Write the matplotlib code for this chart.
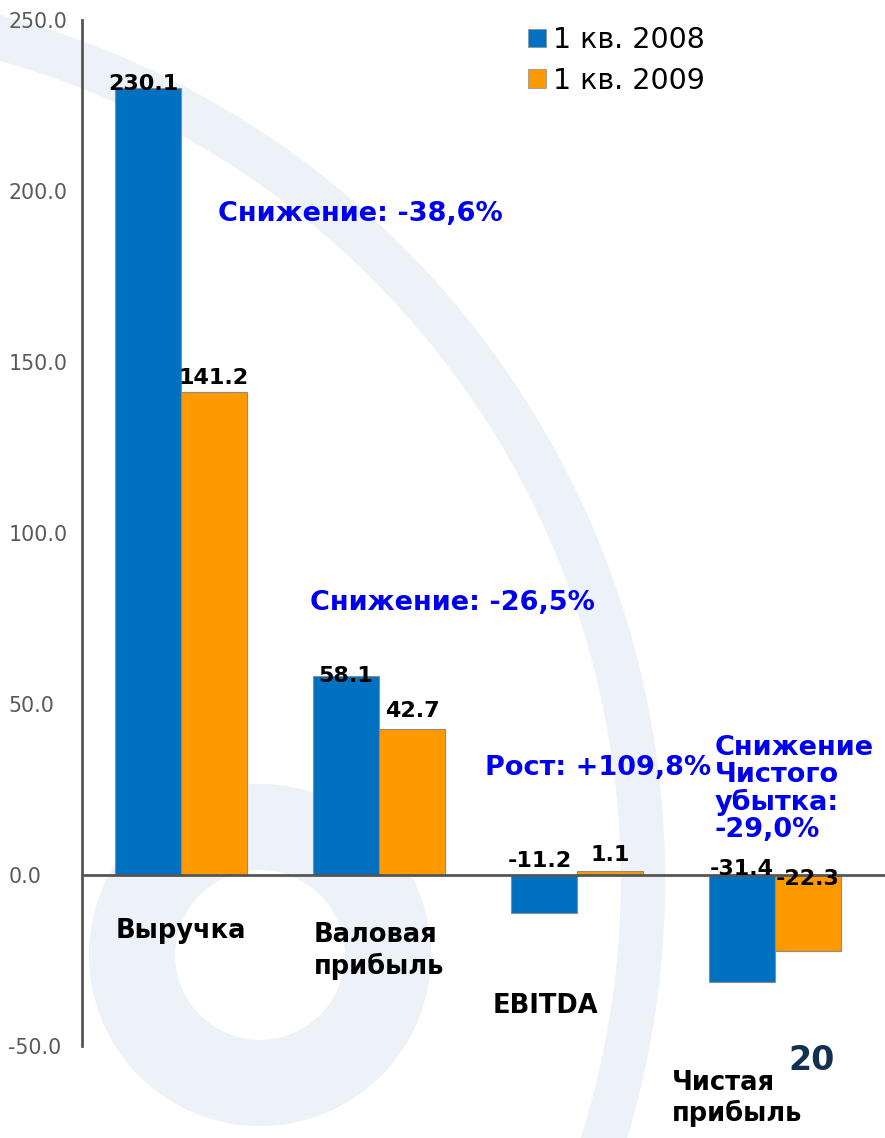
import numpy as np
import matplotlib
matplotlib.use("Agg")
import matplotlib.pyplot as plt
from matplotlib.patches import Patch, Circle

# === Données ===
categories = ["Выручка", "Валовая\nприбыль", "EBITDA", "Чистая\nприбыль"]
q1_2008 = [230.1, 58.1, -11.2, -31.4]
q1_2009 = [141.2, 42.7, 1.1, -22.3]
series_names = ["1 кв. 2008", "1 кв. 2009"]
notes = ["Снижение: -38,6%", "Снижение: -26,5%", "Рост: +109,8%",
         "Снижение\nЧистого\nубытка:\n-29,0%"]
y_ticks = [-50, 0, 50, 100, 150, 200, 250]

# === Styles ===
blue = "#0070C0"
orange = "#FF9900"
note_color = "#0000F0"
axis_color = "#555555"

fig = plt.figure(figsize=(8.85, 11.38), dpi=100)

# filigrane (logo clair en fond)
bg = fig.add_axes([0, 0, 1, 1], zorder=0)
bg.set_xlim(0, 885)
bg.set_ylim(1138, 0)
bg.axis("off")
wm = "#EDF2F8"
bg.add_patch(Circle((-230, 880), 873, fill=False, lw=32, color=wm))
bg.add_patch(Circle((260, 955), 128, fill=False, lw=62, color=wm))

ax = fig.add_axes([82 / 885, 1 - 1046 / 1138, 1 - 82 / 885, 1026 / 1138], zorder=1)
ax.patch.set_alpha(0)

x = np.arange(len(categories))
w = 0.333
ax.bar(x - w / 2, q1_2008, w, color=blue, edgecolor="#8c8c8c", lw=0.8, zorder=2)
ax.bar(x + w / 2, q1_2009, w, color=orange, edgecolor="#8c8c8c", lw=0.8, zorder=2)

ax.set_xlim(-0.5, 3.556)
ax.set_ylim(-50, 250)
ax.axhline(0, color=axis_color, lw=2, zorder=3)

for s in ["top", "right", "bottom"]:
    ax.spines[s].set_visible(False)
ax.spines["left"].set_color(axis_color)
ax.spines["left"].set_linewidth(2)

ax.set_xticks([])
ax.set_yticks(y_ticks)
ax.set_yticklabels([f"{v:.1f}" for v in y_ticks])
ax.tick_params(axis="y", length=0, pad=53, labelsize=14.8, labelcolor="#595959")
for lbl in ax.get_yticklabels():
    lbl.set_horizontalalignment("left")

# étiquettes de valeurs (décalages en points)
dx_2008 = [-3, 0, -3, 0]
dy_2008 = [3, 0, 10, 4]
dx_2009 = [0, 0, 0, 0]
dy_2009 = [10, 13, 12, -3]
for i in range(len(categories)):
    ax.annotate(f"{q1_2008[i]:.1f}", (x[i] - w / 2, max(q1_2008[i], 0)),
                xytext=(dx_2008[i], dy_2008[i]), textcoords="offset points",
                ha="center", va="center", fontsize=16, fontweight="bold", zorder=4)
    ax.annotate(f"{q1_2009[i]:.1f}", (x[i] + w / 2, max(q1_2009[i], 0)),
                xytext=(dx_2009[i], dy_2009[i]), textcoords="offset points",
                ha="center", va="center", fontsize=16, fontweight="bold", zorder=4)

# noms des catégories
cat_dx = [0, 0, -0.157, -0.19]
cat_y = [-16.4, -22.2, -38.3, -65.4]
for i, name in enumerate(categories):
    ax.text(x[i] + cat_dx[i], cat_y[i], name, ha="center", va="center",
            multialignment="left", fontsize=18.5, fontweight="bold", clip_on=False)

# commentaires en bleu
note_x = [0.187, 0.652, 1.535, 2.697]
note_y = [193.3, 79.4, 31.2, 25.1]
for i, t in enumerate(notes):
    ax.text(note_x[i], note_y[i], t, ha="left", va="center", color=note_color,
            fontsize=19.5, fontweight="bold", linespacing=1.05, zorder=5)

# légende
handles = [Patch(facecolor=blue, edgecolor="#8c8c8c", lw=0.5),
           Patch(facecolor=orange, edgecolor="#8c8c8c", lw=0.5)]
fig.legend(handles, series_names, loc="upper left",
           bbox_to_anchor=(528 / 885, 1 - 26 / 1138), frameon=False,
           fontsize=20.5, handlelength=0.63, handleheight=0.63,
           handletextpad=0.25, labelspacing=0.45, borderpad=0, borderaxespad=0)

# numéro de page
fig.text(812 / 885, 1 - 1060 / 1138, "20", ha="center", va="center",
         fontsize=24, fontweight="bold", color="#12304F")

fig.savefig("out.png", dpi=100)
